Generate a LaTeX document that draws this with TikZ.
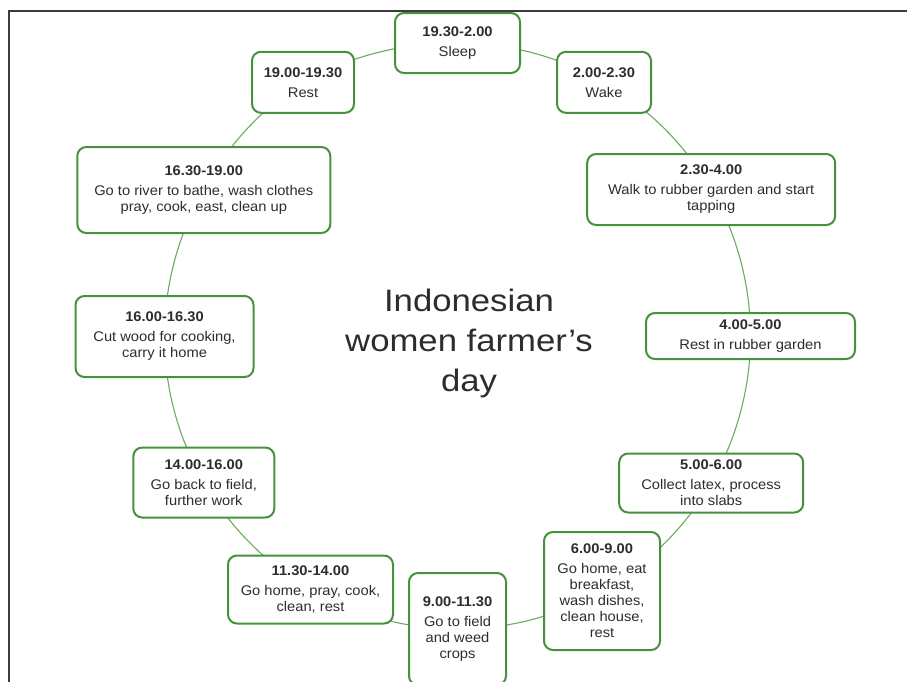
\documentclass[tikz,border=0pt]{standalone}
\usepackage{fontspec}
\setmainfont{Liberation Sans}
\newfontfamily\bodyfont[FakeStretch=1.05]{Liberation Sans}
\newfontfamily\titlefont[FakeStretch=1.12]{Liberation Sans}
\usetikzlibrary{backgrounds}
\definecolor{boxgreen}{RGB}{70,145,60}
\definecolor{linegreen}{RGB}{105,172,92}
\definecolor{txt}{RGB}{45,45,45}
\definecolor{framegray}{RGB}{60,60,60}
\begin{document}
\begin{tikzpicture}[x=1pt,y=-1pt,
  slot/.style={draw=boxgreen, line width=2pt, rounded corners=9pt, fill=white,
    align=center, inner sep=0pt, text=txt,
    font=\bodyfont\fontsize{14}{16}\selectfont},
  conn/.style={draw=linegreen, line width=1.1pt, bend left=15, looseness=0.866},
  framestyle/.style={draw=framegray, line width=1.3pt},
  titlestyle/.style={align=center, text=txt, font=\titlefont\fontsize{31}{40}\selectfont}]
\useasboundingbox (0,0) rectangle (907,681);
\coordinate (fbl) at (9,690);
\coordinate (ftl) at (9,11);
\coordinate (ftr) at (910,11);
\draw[framestyle] (fbl) -- (ftl) -- (ftr);

\node[slot, minimum width=125pt, minimum height=60pt] (n1) at (457.5,43) {\textbf{19.30-2.00}\\[4pt]Sleep};
\node[slot, minimum width=94pt, minimum height=61pt] (n2) at (604,82.3) {\textbf{2.00-2.30}\\[4pt]Wake};
\node[slot, minimum width=248pt, minimum height=71pt] (n3) at (711.2,189.5) {\textbf{2.30-4.00}\\[4pt]Walk to rubber garden and start\\tapping};
\node[slot, minimum width=209pt, minimum height=46pt] (n4) at (750.5,336) {\textbf{4.00-5.00}\\[4pt]Rest in rubber garden};
\node[slot, minimum width=184pt, minimum height=59pt] (n5) at (711.2,483) {\textbf{5.00-6.00}\\[4pt]Collect latex, process\\into slabs};
\node[slot, minimum width=116pt, minimum height=118pt] (n6) at (602,591) {\textbf{6.00-9.00}\\[4pt]Go home, eat\\breakfast,\\wash dishes,\\clean house,\\rest};
\node[slot, minimum width=97pt, minimum height=112pt] (n7) at (457.5,629) {\textbf{9.00-11.30}\\[4pt]Go to field\\and weed\\crops};
\node[slot, minimum width=165pt, minimum height=68pt] (n8) at (310.5,589.5) {\textbf{11.30-14.00}\\[4pt]Go home, pray, cook,\\clean, rest};
\node[slot, minimum width=141pt, minimum height=70pt] (n9) at (203.8,482.5) {\textbf{14.00-16.00}\\[4pt]Go back to field,\\further work};
\node[slot, minimum width=178pt, minimum height=81pt] (n10) at (164.5,336.5) {\textbf{16.00-16.30}\\[4pt]Cut wood for cooking,\\carry it home};
\node[slot, minimum width=253pt, minimum height=86pt] (n11) at (203.8,190) {\textbf{16.30-19.00}\\[4pt]Go to river to bathe, wash clothes\\pray, cook, east, clean up};
\node[slot, minimum width=102pt, minimum height=61pt] (n12) at (303,82.3) {\textbf{19.00-19.30}\\[4pt]Rest};

\node[titlestyle] (title) at (469,343) {Indonesian\\women farmer’s\\day};

\begin{pgfonlayer}{background}
\draw[conn] (n1.center) to (n2.center);
\draw[conn] (n2.center) to (n3.center);
\draw[conn] (n3.center) to (n4.center);
\draw[conn] (n4.center) to (n5.center);
\draw[conn] (n5.center) to (n6.center);
\draw[conn] (n6.center) to (n7.center);
\draw[conn] (n7.center) to (n8.center);
\draw[conn] (n8.center) to (n9.center);
\draw[conn] (n9.center) to (n10.center);
\draw[conn] (n10.center) to (n11.center);
\draw[conn] (n11.center) to (n12.center);
\draw[conn] (n12.center) to (n1.center);
\end{pgfonlayer}
\end{tikzpicture}
\end{document}
